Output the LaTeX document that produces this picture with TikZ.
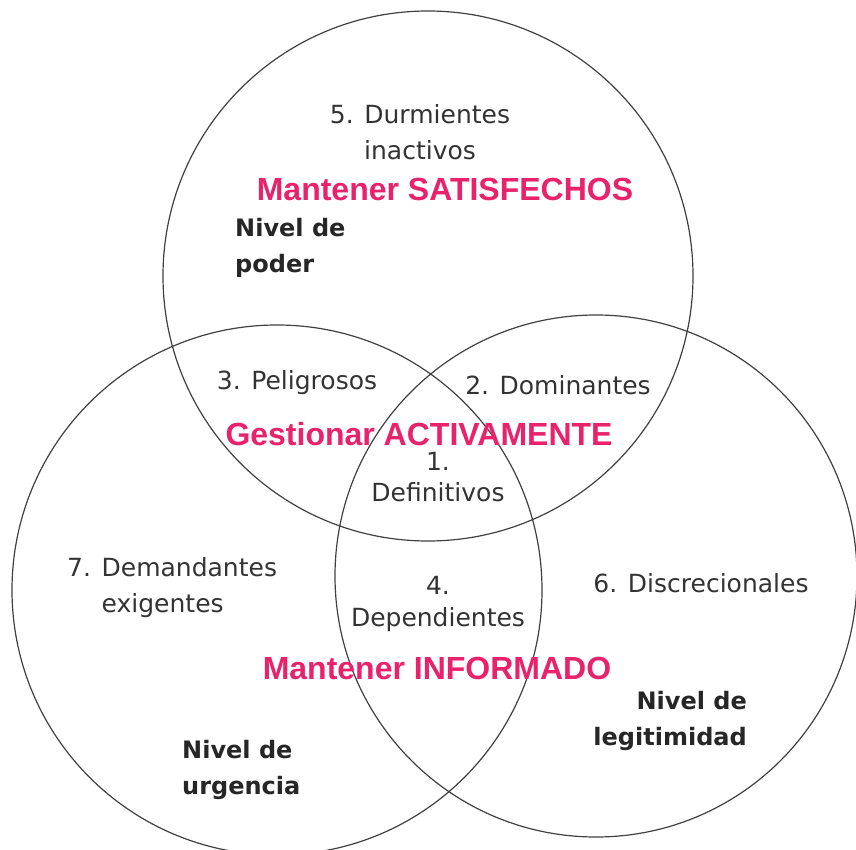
\documentclass[tikz,border=0pt]{standalone}
\usepackage{fontspec}
\setmainfont{DejaVu Sans}
\newfontfamily\accentfont{Liberation Sans}
\definecolor{accentpink}{RGB}{232,34,107}
\usetikzlibrary{positioning}

\begin{document}
\begin{tikzpicture}[x=1pt,y=-1pt,every node/.append style={inner sep=0pt},venn/.style={circle, draw=black!75, line width=1.2pt, minimum size=#1},group/.style={text=black!80, align=center, font=\fontsize{25}{36}\selectfont},level/.style={text=black!85, font=\bfseries\fontsize{24}{36}\selectfont},action/.style={text=accentpink, font=\accentfont\bfseries\fontsize{32}{36}\selectfont},]
    \useasboundingbox (0,0) rectangle (856,850);
    \node [venn=530pt] (poder)       at (428,276) {};
    \node [venn=530pt] (urgencia)    at (277,590) {};
    \node [venn=522pt] (legitimidad) at (596,576) {};
    \node [group] (durmientes)   at (420,132) {5. Durmientes\\inactivos};
    \node [action] (satisfechos) at (445,189) {Mantener SATISFECHOS};
    \node [level, align=left, anchor=west] (nivpoder) at (235,248) {Nivel de\\poder};
    \node [group] (peligrosos)   at (297,383) {3. Peligrosos};
    \node [group] (dominantes)   at (558,385) {2. Dominantes};
    \node [action] (activamente) at (419,434) {Gestionar ACTIVAMENTE};
    \node [group, font=\fontsize{25}{31}\selectfont] (definitivos) at (438,477) {1.\\Definitivos};
    \node [group, align=left, anchor=west] (demandantes) at (67,588) {7. Demandantes\\\hphantom{7. }exigentes};
    \node [group, font=\fontsize{25}{32}\selectfont] (dependientes) at (438,604) {4.\\Dependientes};
    \node [group] (discrecionales) at (701,583) {6. Discrecionales};
    \node [action] (informado)   at (437,668) {Mantener INFORMADO};
    \node [level, align=right, anchor=east] (nivlegit) at (747,721) {Nivel de\\legitimidad};
    \node [level, align=left, anchor=west] (nivurg) at (182,770) {Nivel de\\urgencia};
\end{tikzpicture}
\end{document}
